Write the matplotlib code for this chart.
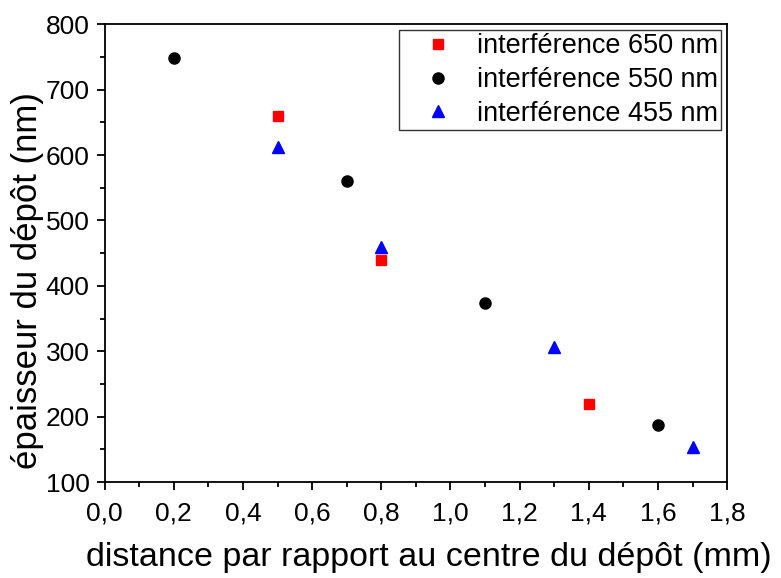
import matplotlib
matplotlib.use("Agg")
from matplotlib import pyplot as plt
from matplotlib.ticker import MultipleLocator, FuncFormatter

plt.rcParams['font.family'] = ['Liberation Sans', 'DejaVu Sans']

# données
x650 = [0.5, 0.8, 1.4]
y650 = [660, 440, 220]
x550 = [0.2, 0.7, 1.1, 1.6]
y550 = [748, 561, 374, 187]
x455 = [0.5, 0.8, 1.3, 1.7]
y455 = [612, 459, 306, 153]

fig = plt.figure(figsize=(7.81, 5.78), dpi=100)
ax = fig.add_axes([0.134, 0.166, 0.797, 0.792])

ax.plot(x650, y650, 's', color='red', markersize=7, linestyle='none', label='interférence 650 nm')
ax.plot(x550, y550, 'o', color='black', markersize=8, linestyle='none', label='interférence 550 nm')
ax.plot(x455, y455, '^', color='blue', markersize=8, linestyle='none', label='interférence 455 nm')

ax.set_xlim(0, 1.8)
ax.set_ylim(100, 800)
ax.xaxis.set_major_locator(MultipleLocator(0.2))
ax.xaxis.set_minor_locator(MultipleLocator(0.1))
ax.yaxis.set_major_locator(MultipleLocator(100))
ax.yaxis.set_minor_locator(MultipleLocator(50))
ax.xaxis.set_major_formatter(FuncFormatter(lambda v, p: ('%.1f' % v).replace('.', ',')))

ax.tick_params(which='major', direction='out', length=6, width=1.3, labelsize=19, pad=5)
ax.tick_params(axis='x', which='major', pad=8)
ax.tick_params(which='minor', direction='out', length=3.5, width=1.3)
for s in ax.spines.values():
    s.set_linewidth(1.3)

ax.set_xlabel('distance par rapport au centre du dépôt (mm)', fontsize=24.5)
ax.set_ylabel('épaisseur du dépôt (nm)', fontsize=25)
ax.xaxis.set_label_coords(0.52, -0.13)
ax.yaxis.set_label_coords(-0.097, 0.441)

leg = ax.legend(loc='upper right', fontsize=19.5, frameon=True, fancybox=False,
                edgecolor='black', handletextpad=0.15, borderpad=0.12, labelspacing=0.28,
                handlelength=2.6, borderaxespad=0.22)
leg.get_frame().set_linewidth(1.0)

fig.savefig('out.png', dpi=100)
